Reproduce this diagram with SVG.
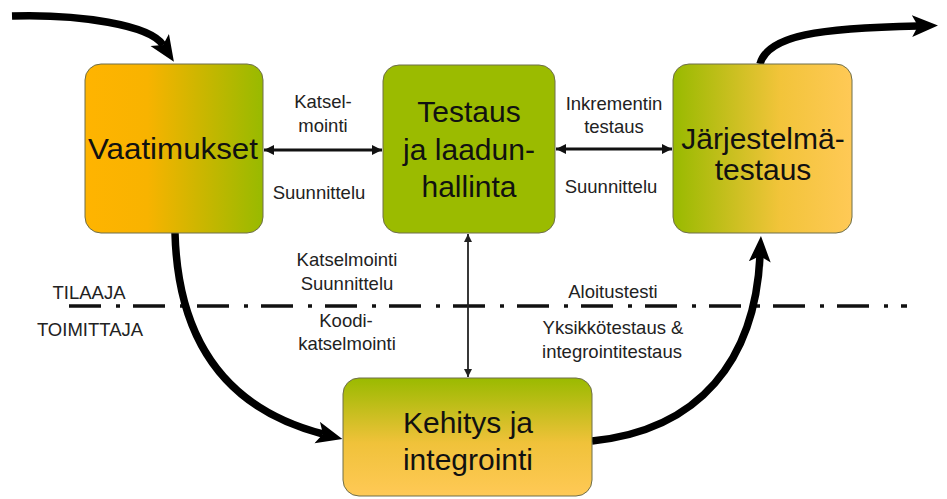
<svg xmlns="http://www.w3.org/2000/svg" width="947" height="499" viewBox="0 0 947 499">
<defs>
<linearGradient id="gVaat" x1="0" y1="0" x2="1" y2="0">
<stop offset="0" stop-color="#FFB400"/><stop offset="0.35" stop-color="#F8B300"/><stop offset="1" stop-color="#98BA00"/>
</linearGradient>
<linearGradient id="gJarj" x1="0" y1="0" x2="1" y2="0">
<stop offset="0" stop-color="#98BA00"/><stop offset="0.6" stop-color="#F2C43A"/><stop offset="1" stop-color="#FFC956"/>
</linearGradient>
<linearGradient id="gKeh" x1="0" y1="0" x2="0" y2="1">
<stop offset="0" stop-color="#9ABA00"/><stop offset="0.55" stop-color="#F0C23A"/><stop offset="1" stop-color="#FFC956"/>
</linearGradient>
<marker id="big" markerUnits="userSpaceOnUse" markerWidth="28" markerHeight="24" refX="6" refY="11" orient="auto">
<path d="M0,0 L26,11 L0,22 L6,11 z" fill="#000"/>
</marker>
<marker id="sm" markerUnits="userSpaceOnUse" markerWidth="12" markerHeight="12" refX="10" refY="5" orient="auto-start-reverse">
<path d="M0,0 L10,5 L0,10 z" fill="#111"/>
</marker>
<marker id="tiny" markerUnits="userSpaceOnUse" markerWidth="10" markerHeight="10" refX="8" refY="4" orient="auto-start-reverse">
<path d="M0,0 L8,4 L0,8 z" fill="#222"/>
</marker>
</defs>
<style>
.box{stroke:#6e6e4a;stroke-width:1}
.bt{font-family:"Liberation Sans",Arial,sans-serif;font-size:30px;fill:#111;text-anchor:middle}
.lt{font-family:"Liberation Sans",Arial,sans-serif;font-size:18.5px;fill:#222;text-anchor:middle}
.thick{fill:none;stroke:#000;stroke-width:7.5;marker-end:url(#big)}
.dbl{fill:none;stroke:#111;stroke-width:3;marker-start:url(#sm);marker-end:url(#sm)}
.thin{fill:none;stroke:#222;stroke-width:1.8;marker-start:url(#tiny);marker-end:url(#tiny)}
.dd{fill:none;stroke:#111;stroke-width:3.5;stroke-dasharray:32 15 4 13}
</style>
<line class="dd" x1="69" y1="306" x2="907" y2="306"/>
<g id="connectors">
<path class="thick" d="M12,16 C80,14 150,25 163,45"/>
<path class="thick" d="M175,233 C178,345 230,410 323,434"/>
<path class="thick" d="M592,441 C700,430 755,360 760,256"/>
<path class="thick" d="M760,64 C768,35 820,28 918,26"/>
<path class="dbl" d="M264,150 L382,150"/>
<path class="dbl" d="M556,149 L672,149"/>
<path class="thin" d="M468,234 L468,377"/>
</g>
<g id="vaatimukset">
<rect class="box" x="85" y="64" width="178" height="169" rx="16" fill="url(#gVaat)"/>
<text class="bt" x="173" y="159" textLength="170" lengthAdjust="spacingAndGlyphs">Vaatimukset</text>
</g>
<g id="testaus">
<rect class="box" x="383" y="65" width="172" height="168" rx="16" fill="#9BBB00"/>
<text class="bt" x="469" y="122">Testaus</text>
<text class="bt" x="469" y="160">ja laadun-</text>
<text class="bt" x="469" y="197">hallinta</text>
</g>
<g id="jarjestelma">
<rect class="box" x="673" y="64" width="179" height="169" rx="16" fill="url(#gJarj)"/>
<text class="bt" x="763" y="149">Järjestelmä-</text>
<text class="bt" x="763" y="180">testaus</text>
</g>
<g id="kehitys">
<rect class="box" x="343" y="378" width="249" height="118" rx="16" fill="url(#gKeh)"/>
<text class="bt" x="468" y="433">Kehitys ja</text>
<text class="bt" x="468" y="470">integrointi</text>
</g>
<g id="labels">
<text class="lt" x="323" y="108">Katsel-</text>
<text class="lt" x="323" y="132">mointi</text>
<text class="lt" x="319" y="199">Suunnittelu</text>
<text class="lt" x="614" y="110">Inkrementin</text>
<text class="lt" x="614" y="133">testaus</text>
<text class="lt" x="611" y="193">Suunnittelu</text>
<text class="lt" x="347" y="266">Katselmointi</text>
<text class="lt" x="347" y="290">Suunnittelu</text>
<text class="lt" x="346" y="327">Koodi-</text>
<text class="lt" x="347" y="350">katselmointi</text>
<text class="lt" x="89" y="299">TILAAJA</text>
<text class="lt" x="90" y="336">TOIMITTAJA</text>
<text class="lt" x="613" y="298">Aloitustesti</text>
<text class="lt" x="613" y="334">Yksikkötestaus &amp;</text>
<text class="lt" x="612" y="358">integrointitestaus</text>
</g>
</svg>
